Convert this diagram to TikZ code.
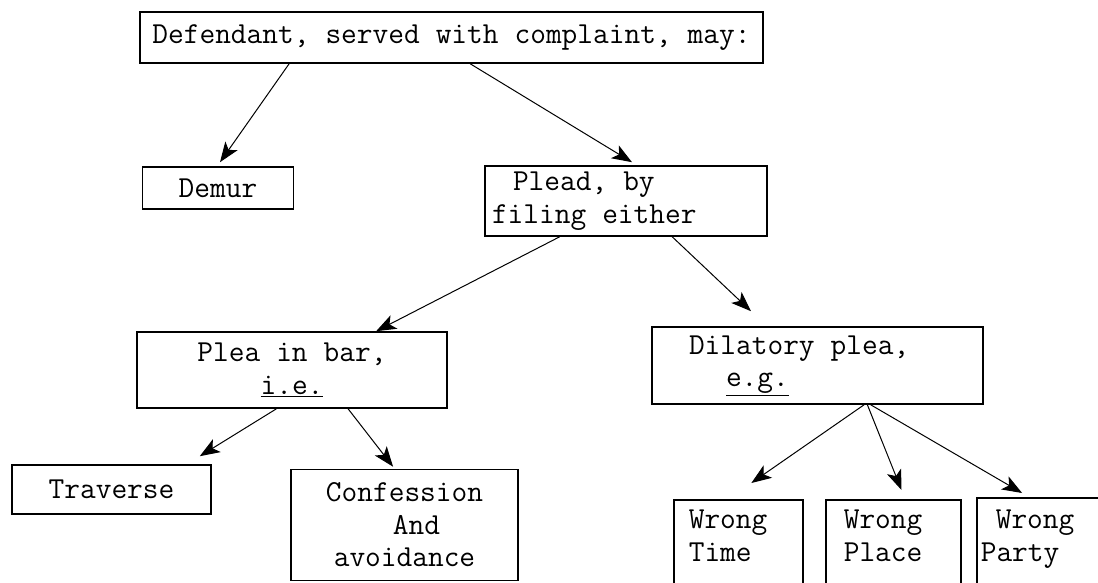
\documentclass[tikz,border=0pt]{standalone}
\usepackage{fontspec}
\usetikzlibrary{arrows.meta,calc}
\newcommand\boxfont{\ttfamily\fontsize{30.5pt}{32.5pt}\selectfont}
\newcommand\monospace{\spaceskip=16.02pt\relax\xspaceskip=16.02pt\relax}

\begin{document}
\begin{tikzpicture}[x=1pt, y=-1pt,
  every node/.style={font=\boxfont, execute at begin node=\monospace},
  box/.style={draw, line width=1.6pt, inner sep=0pt},
  arr/.style={-{Stealth[length=20pt,width=15pt,inset=5pt]}, line width=1pt}]
  \clip (0,0) rectangle (1098,583);

  % top
  \node[box, minimum width=623pt, minimum height=51pt] (top) at (451.5,37.5) {Defendant, served with complaint, may:};

  % second row
  \node[box, minimum width=151pt, minimum height=42pt] (demur) at (218,188) {Demur};
  \node[box, inner xsep=7pt, text width=268pt, minimum height=70pt, align=left] (plead) at (626,201) {\hspace*{21pt}Plead, by\\filing either};

  % third row
  \node[box, minimum width=310pt, minimum height=76pt, align=center] (pleabar) at (292,370) {Plea in bar,\\\underline{i.e.}};
  \node[box, inner xsep=37pt, text width=257pt, minimum height=77pt, align=left] (dilatory) at (817.5,365.5) {Dilatory plea,\\\hspace*{37pt}\underline{e.g.}};

  % bottom row
  \node[box, minimum width=199pt, minimum height=49pt] (traverse) at (111.5,489.5) {Traverse};
  \node[box, minimum width=227pt, minimum height=111pt, align=center] (confession) at (404.5,525) {Confession\\\hspace*{24pt}And\\avoidance};
  \node[box, anchor=north west, inner xsep=15pt, inner ysep=5pt, text width=99pt, text height=24pt, text depth=87pt, align=left] (wtime) at (673,499) {Wrong\\Time};
  \node[box, anchor=north west, inner xsep=18pt, inner ysep=5pt, text width=99pt, text height=24pt, text depth=87pt, align=left] (wplace) at (825,499) {Wrong\\Place};
  \node[box, anchor=north west, inner xsep=4pt, inner ysep=7pt, text width=126pt, text height=24pt, text depth=87pt, align=left] (wparty) at (976,497) {\hspace*{15pt}Wrong\\Party};

  % arrows
  \draw[arr] ($(top.south west)!.24!(top.south east)$) -- ($(demur.north)+(2,-4)$);
  \draw[arr] ($(top.south west)!.53!(top.south east)$) -- ($(plead.north)+(6,-3)$);
  \draw[arr] ($(plead.south west)!.266!(plead.south east)$) -- ($(pleabar.north west)!.77!(pleabar.north east)$);
  \draw[arr] ($(plead.south west)!.663!(plead.south east)$) -- ($(dilatory.north west)!.3!(dilatory.north east)+(0,-15)$);
  \draw[arr] ($(pleabar.south west)!.45!(pleabar.south east)$) -- ($(traverse.north west)!.94!(traverse.north east)+(0,-8)$);
  \draw[arr] ($(pleabar.south west)!.68!(pleabar.south east)$) -- ($(confession.north west)!.45!(confession.north east)+(0,-2)$);
  \draw[arr] ($(dilatory.south west)!.64!(dilatory.south east)$) -- ($(wtime.north west)!.6!(wtime.north east)+(0,-16)$);
  \draw[arr] ($(dilatory.south west)!.65!(dilatory.south east)$) -- ($(wplace.north west)!.56!(wplace.north east)+(0,-9)$);
  \draw[arr] ($(dilatory.south west)!.66!(dilatory.south east)$) -- ($(wparty.north west)!.34!(wparty.north east)+(0,-4)$);
\end{tikzpicture}
\end{document}
